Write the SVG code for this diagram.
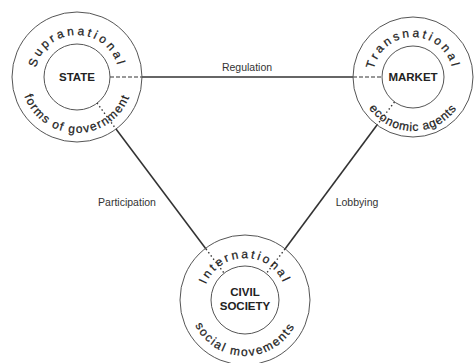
<svg xmlns="http://www.w3.org/2000/svg" xmlns:xlink="http://www.w3.org/1999/xlink" width="476" height="363" viewBox="0 0 476 363">
<style>
.ring{fill:none;stroke:#555;stroke-width:1}
.solid{fill:none;stroke:#333;stroke-width:1.6}
.dash{fill:none;stroke:#333;stroke-width:1.2;stroke-dasharray:4 2}
.dot{fill:none;stroke:#333;stroke-width:1.4;stroke-dasharray:1.4 2.6}
.core{font-family:"Liberation Sans",Arial,sans-serif;font-weight:bold;font-size:11.5px;fill:#222;text-anchor:middle}
.arc{font-family:"Liberation Sans",Arial,sans-serif;font-size:12px;fill:#222;text-anchor:middle;stroke:#222;stroke-width:0.25}
.lbl{font-family:"Liberation Sans",Arial,sans-serif;font-size:10.5px;fill:#333;text-anchor:middle}
</style>
<defs>
<path id="stTop" d="M35,77 A42,42 0 1 1 119,77 A42,42 0 1 1 35,77"/>
<path id="stBot" d="M21,77 A56,56 0 1 0 133,77 A56,56 0 1 0 21,77"/>
<path id="mkTop" d="M373,77 A40,40 0 1 1 453,77 A40,40 0 1 1 373,77"/>
<path id="mkBot" d="M359,77 A54,54 0 1 0 467,77 A54,54 0 1 0 359,77"/>
<path id="csTop" d="M203,300 A42,42 0 1 1 287,300 A42,42 0 1 1 203,300"/>
<path id="csBot" d="M189,300 A56,56 0 1 0 301,300 A56,56 0 1 0 189,300"/>
</defs>
<g id="connectors">
<line class="dash" x1="110" y1="77" x2="142" y2="77"/>
<line class="solid" x1="142" y1="77" x2="353" y2="77"/>
<line class="dash" x1="353" y1="77" x2="382" y2="77"/>
<line class="dot" x1="97" y1="103" x2="116" y2="129"/>
<line class="solid" x1="116" y1="129" x2="206" y2="249"/>
<line class="dot" x1="206" y1="249" x2="224" y2="273"/>
<line class="dot" x1="394.5" y1="102" x2="377" y2="125"/>
<line class="solid" x1="377" y1="125" x2="285" y2="249"/>
<line class="dot" x1="285" y1="249" x2="266" y2="274"/>
<text class="lbl" x="247" y="71">Regulation</text>
<text class="lbl" x="127" y="206">Participation</text>
<text class="lbl" x="357" y="206">Lobbying</text>
</g>
<g id="state">
<circle class="ring" cx="77" cy="77" r="65"/>
<circle class="ring" cx="77" cy="77" r="33"/>
<text class="core" x="77" y="81">STATE</text>
<text class="arc" letter-spacing="3"><textPath xlink:href="#stTop" startOffset="25%">Supranational</textPath></text>
<text class="arc" letter-spacing="1.4"><textPath xlink:href="#stBot" startOffset="25%">forms of government</textPath></text>
</g>
<g id="market">
<circle class="ring" cx="413" cy="77" r="60"/>
<circle class="ring" cx="413" cy="77" r="31"/>
<text class="core" x="413" y="81">MARKET</text>
<text class="arc" letter-spacing="2.9"><textPath xlink:href="#mkTop" startOffset="25%">Transnational</textPath></text>
<text class="arc" letter-spacing="0.8"><textPath xlink:href="#mkBot" startOffset="25%">economic agents</textPath></text>
</g>
<g id="civil">
<circle class="ring" cx="245" cy="300" r="65"/>
<circle class="ring" cx="245" cy="300" r="34"/>
<text class="core" x="245" y="296">CIVIL</text>
<text class="core" x="245" y="310">SOCIETY</text>
<text class="arc" letter-spacing="2.6"><textPath xlink:href="#csTop" startOffset="25%">International</textPath></text>
<text class="arc" letter-spacing="1.7"><textPath xlink:href="#csBot" startOffset="25%">social movements</textPath></text>
</g>
</svg>
